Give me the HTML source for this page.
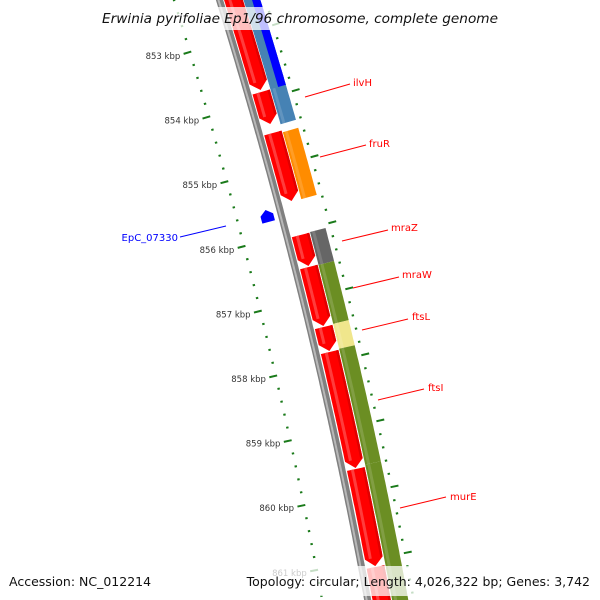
<!DOCTYPE html>
<html><head><meta charset="utf-8"><style>
html,body{margin:0;padding:0;background:#fff;overflow:hidden;width:600px;height:600px}
svg{display:block;font-family:"DejaVu Sans","Liberation Sans",sans-serif;overflow:hidden}
</style></head><body>
<svg id="map" width="600" height="600" viewBox="0 0 600 600" xmlns="http://www.w3.org/2000/svg">
<g id="g-base"></g>
<g id="g-ticks"></g>
<g id="g-feat"></g>
<g id="g-labels"></g>
<rect x="98" y="7" width="404" height="23" fill="#fff" fill-opacity="0.75"/>
<text x="102" y="23" font-size="13.5" font-style="italic" fill="#111" textLength="396" lengthAdjust="spacingAndGlyphs">Erwinia pyrifoliae Ep1/96 chromosome, complete genome</text>
<rect x="260" y="566" width="334" height="30" fill="#fff" fill-opacity="0.75"/>
<text x="9" y="586" font-size="12.5" fill="#111">Accession: NC_012214</text>
<text x="590" y="586" font-size="12.5" fill="#111" text-anchor="end">Topology: circular; Length: 4,026,322 bp; Genes: 3,742</text>
</svg>
<script>
// ---- data (kbp positions) ----
const fwdStarts = [851.70, 853.618, 854.251, 855.826, 856.320, 857.247, 857.633, 859.440, 860.954];
const fwdEnds   = [853.587, 854.112, 855.301, 856.305, 857.232, 857.618, 859.425, 860.940, 861.900];
const track2Names  = ['ilvI', 'ilvH', 'fruR', 'mraZ-feature', 'mraW-feature', 'ftsL-feature', 'ftsI-feature', 'murE-feature'];
const track2Starts = [851.70, 851.70, 854.205, 855.749, 856.259, 857.170, 857.556, 859.347];
const track2Ends   = [853.541, 854.081, 855.239, 856.259, 857.170, 857.556, 859.347, 861.900];
const track2Colors = ['#0000ff', '#4682b4', '#ff8c00', '#666666', '#6b8e23', '#f0e68c', '#6b8e23', '#6b8e23'];
const revStarts = [855.440];
const revEnds   = [855.625];
const kbpTicks  = [853, 854, 855, 856, 857, 858, 859, 860, 861];
const geneLabels = ['ilvH', 'fruR', 'mraZ', 'mraW', 'ftsL', 'ftsI', 'murE'];

// ---- axis functions ----
const NS = 'http://www.w3.org/2000/svg';
function P(t){ return 0.310*t - 0.000105*t*t; }
function S(t){ return 0.310 - 0.00021*t; }
function tOf(kbp){ return 52 + (kbp - 853)*64.75; }
function pt(h, t, d){ const s=S(t), n=Math.sqrt(1+s*s); return [P(t)+h + d/n, t - s*d/n]; }
function band(h, w, t1, t2, d1, d2, arrow, fill, parent, name, aLen){
  const L=[], R=[]; aLen = aLen || 8;
  let a=t1, b=t2;
  if(arrow===1) b=t2-aLen; if(arrow===-1) a=t1+aLen;
  const hc=h;
  for(let t=a; t<b; t+=3){ L.push(pt(hc,t,d1)); R.push(pt(hc,t,d2)); }
  L.push(pt(hc,b,d1)); R.push(pt(hc,b,d2));
  let pts=[];
  if(arrow===-1) pts.push(pt(hc,t1,0));
  pts=pts.concat(L);
  if(arrow===1) pts.push(pt(hc,t2,0));
  pts=pts.concat(R.reverse());
  const p=document.createElementNS(NS,'polygon');
  p.setAttribute('points', pts.map(q=>q[0].toFixed(1)+','+q[1].toFixed(1)).join(' '));
  p.setAttribute('fill', fill);
  
  
  parent.appendChild(p);
  return p;
}
const gBase=document.getElementById('g-base'), gT=document.getElementById('g-ticks'),
      gF=document.getElementById('g-feat'), gL=document.getElementById('g-labels');

// backbone
band(219.5,7,-60,660,-3.5,3.5,0,'#808080',gBase,'backbone');
band(219.5,7,-60,660,-2,0,0,'#b8b8b8',gBase,'backbone-highlight');

// ticks
function tick(h,t,d1,d2,name){
  const a=pt(h,t,d1), b=pt(h,t,d2);
  const l=document.createElementNS(NS,'line');
  l.setAttribute('x1',a[0]); l.setAttribute('y1',a[1]); l.setAttribute('x2',b[0]); l.setAttribute('y2',b[1]);
  l.setAttribute('stroke','#1a7a1a'); l.setAttribute('stroke-width','2');
  
  
  gT.appendChild(l);
}
for(let k=-8;k<50;k++){
  const t=tOf(853)+k*12.95;
  if(t<-10||t>620) continue;
  const major = k%5===0;
  tick(174,t, major?-6.5:-1.2, major?1.5:1.2, major?'left-major-tick':'left-minor-tick');
}
kbpTicks.forEach(k=>{
  const t=tOf(k); const p=pt(174,t,-10);
  const tx=document.createElementNS(NS,'text');
  tx.setAttribute('x',p[0]); tx.setAttribute('y',p[1]+4);
  tx.setAttribute('font-size','8.5'); tx.setAttribute('fill','#333'); tx.setAttribute('text-anchor','end');
  tx.textContent=k+' kbp';
  
  
  gT.appendChild(tx);
});
for(let k=-8;k<50;k++){
  const t=91+k*13.2;
  if(t<-10||t>620) continue;
  const major = k%5===0;
  tick(265.5,t, major?-1:-1.2, major?7:1.2, major?'right-major-tick':'right-minor-tick');
}

// forward red features (track 1)
fwdStarts.forEach((s,i)=>{
  const t1=tOf(s), t2=tOf(fwdEnds[i]);
  band(233.5,18,t1,t2,-9,9,1,'#ff0000',gF,'forward-gene-'+i);
  band(233.5,18,t1,t2-8,-5,-2,0,'#ff3c3c',gF,'forward-gene-shade-'+i);
  band(233.5,18,t1,t2-8,6.5,9,0,'#e00000',gF,'forward-gene-edge-'+i);
});
// track 2
track2Starts.forEach((s,i)=>{
  const t1=tOf(s), t2=tOf(track2Ends[i]);
  let d1=-8, d2=8;
  if(i===0){ d1=0; }
  band(252,16,t1,t2,d1,d2,0,track2Colors[i],gF,'gene-'+track2Names[i]);
  band(252,16,t1,t2,d1+2,d1+5,0,'#ffffff',gF,'gene-shade-'+track2Names[i]).setAttribute('fill-opacity','0.15');
});
{
  const t1=tOf(track2Starts[0]), t2=tOf(track2Ends[0]);
  band(252,16,t1,t2,-8,0,0,'#4682b4',gF,'gene-ilvH-upper');
  band(252,16,t1,t2,0,8,0,'#0000ff',gF,'gene-ilvI');
}
// reverse small feature
revStarts.forEach((s,i)=>{
  band(205,13,tOf(s),tOf(revEnds[i]),-6.5,6.5,-1,'#0000ff',gF,'gene-EpC_07330',5);
});

// labels
const labelText=[[353,86],[369,147],[391,231],[402,278],[412,320],[428,391],[450,500]];
const labelLine=[[305,97,350,84],[320,157,366,145],[342,241,388,230],[353,288,399,277],[362,330,408,319],[378,400,424,389],[400,508,446,497]];
geneLabels.forEach((g,i)=>{
  const l=document.createElementNS(NS,'line');
  const c=labelLine[i];
  l.setAttribute('x1',c[0]);l.setAttribute('y1',c[1]);l.setAttribute('x2',c[2]);l.setAttribute('y2',c[3]);
  l.setAttribute('stroke','#ff0000');l.setAttribute('stroke-width','1');
  
  
  gL.appendChild(l);
  const t=document.createElementNS(NS,'text');
  t.setAttribute('x',labelText[i][0]);t.setAttribute('y',labelText[i][1]);
  t.setAttribute('font-size','10');t.setAttribute('fill','#ff0000');
  t.textContent=g;
  
  
  gL.appendChild(t);
});
{
  const l=document.createElementNS(NS,'line');
  l.setAttribute('x1',180);l.setAttribute('y1',237);l.setAttribute('x2',226);l.setAttribute('y2',226);
  l.setAttribute('stroke','#0000ff');l.setAttribute('stroke-width','1');
  
  
  gL.appendChild(l);
  const t=document.createElementNS(NS,'text');
  t.setAttribute('x',178);t.setAttribute('y',241);t.setAttribute('text-anchor','end');
  t.setAttribute('font-size','10');t.setAttribute('fill','#0000ff');
  t.textContent='EpC_07330';
  
  
  gL.appendChild(t);
}
</script>
</body></html>
